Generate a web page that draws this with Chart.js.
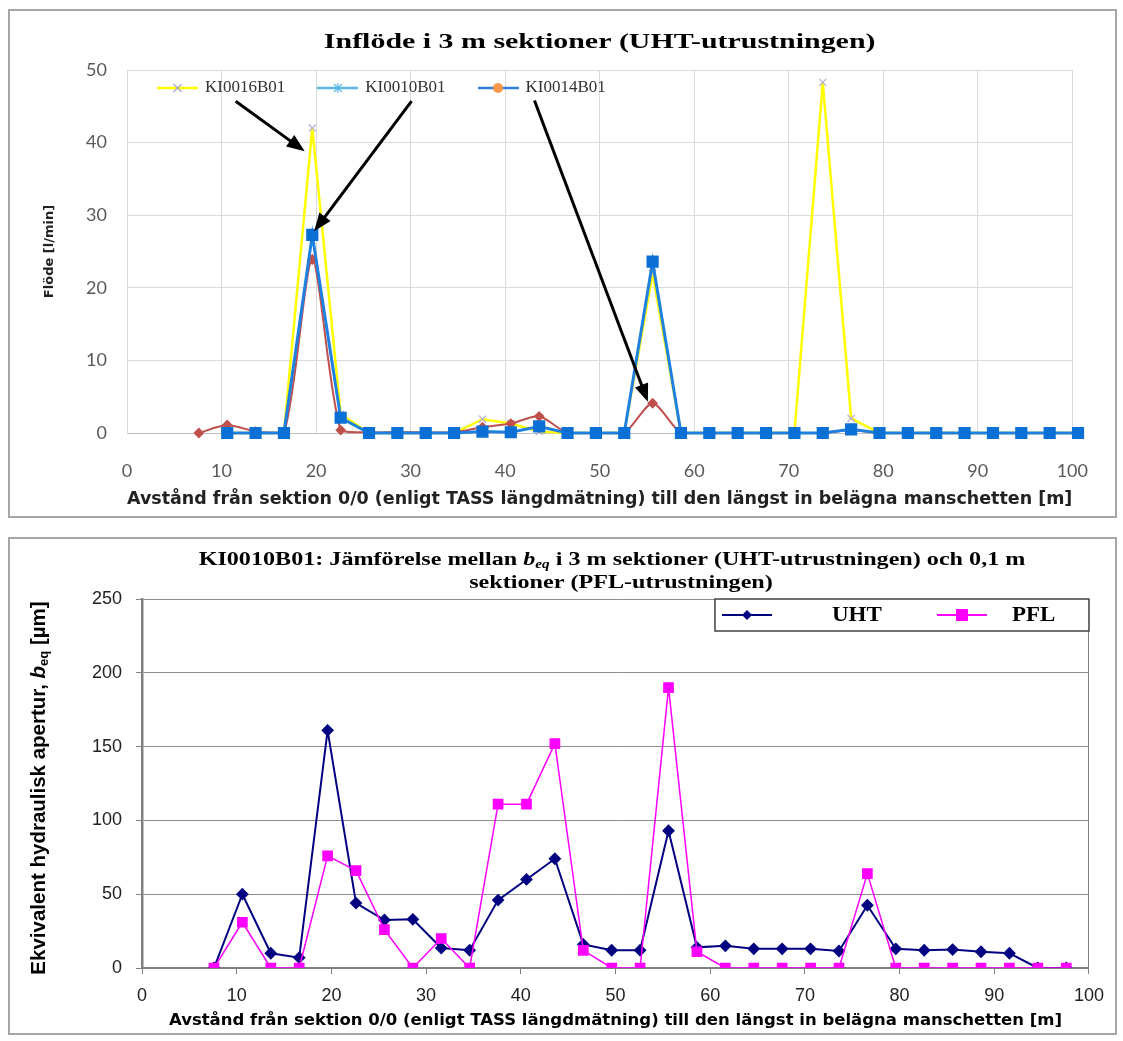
<!DOCTYPE html>
<html>
<head>
<meta charset="utf-8">
<script src="https://cdn.jsdelivr.net/npm/chart.js@4.4.1/dist/chart.umd.min.js"></script>
<style>
  body { margin: 0; background: #fff; width: 1123px; height: 1041px; position: relative; overflow: hidden; }
  .box { position: absolute; left: 8px; width: 1105px; border: 2px solid #a6a6a6; background: #fff; }
  #flowBox { top: 9px; height: 505px; }
  #apBox { top: 537px; height: 494px; }
  canvas { display: block; }
</style>
</head>
<body>
<div class="box" id="flowBox"><canvas id="flowChart" width="1105" height="505"></canvas></div>
<div class="box" id="apBox"><canvas id="apChart" width="1105" height="494"></canvas></div>
<script>
// section midpoints [m]
const sections = [7.6, 10.6, 13.6, 16.6, 19.6, 22.6, 25.6, 28.6, 31.6, 34.6, 37.6, 40.6, 43.6, 46.6, 49.6, 52.6,
  55.6, 58.6, 61.6, 64.6, 67.6, 70.6, 73.6, 76.6, 79.6, 82.6, 85.6, 88.6, 91.6, 94.6, 97.6, 100.6];

// inflow [l/min]
const ki0016b01 = [null, 0, 0, 0, 42, 2.6, 0, 0, 0, 0, 1.9, 1.3, 0.2, 0, 0, 0,
  22, 0, 0, 0, 0, 0, 48.3, 2, 0, 0, 0, 0, 0, 0, 0, 0];
const ki0010b01 = [null, 0, 0, 0, 27.3, 2.1, 0, 0, 0, 0, 0.2, 0.1, 0.9, 0, 0, 0,
  23.6, 0, 0, 0, 0, 0, 0, 0.5, 0, 0, 0, 0, 0, 0, 0, 0];
const ki0014b01 = [0, 1.1, 0.2, 0, 23.9, 0.4, 0.1, 0.1, 0.1, 0.1, 0.8, 1.3, 2.3, 0, 0, 0,
  4.1, 0, 0, 0, 0, 0, 0, 0.4, 0, 0, 0, 0, 0, 0, 0, 0];

// b_eq [µm]
const apSections = [7.6, 10.6, 13.6, 16.6, 19.6, 22.6, 25.6, 28.6, 31.6, 34.6, 37.6, 40.6, 43.6, 46.6, 49.6, 52.6,
  55.6, 58.6, 61.6, 64.6, 67.6, 70.6, 73.6, 76.6, 79.6, 82.6, 85.6, 88.6, 91.6, 94.6, 97.6];
const uht = [0, 50, 10, 7, 161, 44, 32.5, 33, 13.5, 12, 46, 60, 74, 16, 12, 12,
  93, 14, 15, 13, 13, 13, 11.5, 42.5, 13, 12, 12.5, 11, 10, 0, 0];
const pfl = [0, 31, 0, 0, 76, 66, 26, 0, 20, 0, 111, 111, 152, 12, 0, 0,
  190, 11, 0, 0, 0, 0, 0, 64, 0, 0, 0, 0, 0, 0, 0];

const distanceTicks = [0, 10, 20, 30, 40, 50, 60, 70, 80, 90, 100];
const flowTicks = [0, 10, 20, 30, 40, 50];
const apTicks = [0, 50, 100, 150, 200, 250];

// arrows in data units: start (legend) -> tip
const arrowFrom = [[11.5, 45.7], [30.1, 45.7], [43.1, 45.8]];
const arrowTo = [[18.8, 38.8], [19.8, 27.8], [55.1, 4.3]];

const distanceTitle = "Avstånd från sektion 0/0 (enligt TASS längdmätning) till den längst in belägna manschetten [m]";

const toPoints = (xs, ys) => xs.map((x, i) => ({ x: x, y: ys[i] }));

function symbol(w, h, color, lw, marker) {
  const c = document.createElement("canvas");
  c.width = w; c.height = h;
  const g = c.getContext("2d");
  g.strokeStyle = color; g.lineWidth = lw;
  g.beginPath(); g.moveTo(0, h / 2); g.lineTo(w, h / 2); g.stroke();
  marker(g, w / 2, h / 2);
  return c;
}

const topSymbols = [
  symbol(41, 16, "#ffff00", 2.5, (g, x, y) => {
    g.strokeStyle = "#a8a0cc"; g.lineWidth = 1.2;
    g.beginPath(); g.moveTo(x - 4, y - 4); g.lineTo(x + 4, y + 4); g.moveTo(x + 4, y - 4); g.lineTo(x - 4, y + 4); g.stroke();
  }),
  symbol(41, 16, "#5cb8e4", 2.5, (g, x, y) => {
    g.strokeStyle = "#5cb8e4"; g.lineWidth = 1.2;
    g.beginPath(); g.moveTo(x - 4, y - 4); g.lineTo(x + 4, y + 4); g.moveTo(x + 4, y - 4); g.lineTo(x - 4, y + 4);
    g.moveTo(x, y - 5); g.lineTo(x, y + 5); g.stroke();
  }),
  symbol(41, 16, "#2f80dc", 2.5, (g, x, y) => {
    g.fillStyle = "#f79646"; g.beginPath(); g.arc(x, y, 5, 0, Math.PI * 2); g.fill();
  })
];

const apSymbols = [
  symbol(50, 14, "#000080", 2, (g, x, y) => {
    g.fillStyle = "#000080"; g.beginPath();
    g.moveTo(x, y - 5); g.lineTo(x + 5, y); g.lineTo(x, y + 5); g.lineTo(x - 5, y); g.closePath(); g.fill();
  }),
  symbol(50, 14, "#ff00ff", 2, (g, x, y) => {
    g.fillStyle = "#ff00ff"; g.fillRect(x - 6, y - 6, 12, 12);
  })
];

// draws text pieces on one line, centred on cx, stretched horizontally by sx
function drawRich(ctx, parts, cx, cy, sx) {
  let total = 0;
  parts.forEach(p => { ctx.font = p.font; total += ctx.measureText(p.text).width; });
  ctx.save();
  ctx.translate(cx, cy);
  ctx.scale(sx, 1);
  let x = -total / 2;
  parts.forEach(p => {
    ctx.font = p.font;
    ctx.fillText(p.text, x, p.dy || 0);
    x += ctx.measureText(p.text).width;
  });
  ctx.restore();
}

const flowDecor = {
  id: "flowDecor",
  afterDatasetsDraw(chart) {
    const { ctx, chartArea, scales: { x, y } } = chart;
    ctx.save();
    ctx.fillStyle = "#000"; ctx.textAlign = "left"; ctx.textBaseline = "middle";
    drawRich(ctx, [{ text: "Inflöde i 3 m sektioner (UHT-utrustningen)", font: 'bold 22px "Liberation Serif"' }],
      (chartArea.left + chartArea.right) / 2, 31, 1.36);

    // legend inside the plot
    let lx = chartArea.left + 30;
    const ly = chartArea.top + 18;
    ctx.font = '17px "Liberation Serif"';
    chart.data.datasets.forEach((ds, i) => {
      ctx.drawImage(topSymbols[i], lx, ly - 8);
      ctx.fillStyle = "#333";
      ctx.fillText(ds.label, lx + 48, ly);
      lx += 48 + ctx.measureText(ds.label).width + 32;
    });

    // arrows
    ctx.strokeStyle = "#000"; ctx.fillStyle = "#000"; ctx.lineWidth = 3;
    arrowFrom.forEach((s, i) => {
      const x0 = x.getPixelForValue(s[0]), y0 = y.getPixelForValue(s[1]);
      const x1 = x.getPixelForValue(arrowTo[i][0]), y1 = y.getPixelForValue(arrowTo[i][1]);
      const a = Math.atan2(y1 - y0, x1 - x0), head = 18, half = 7;
      const cos = Math.cos(a), sin = Math.sin(a);
      ctx.beginPath(); ctx.moveTo(x0, y0); ctx.lineTo(x1 - cos * head * 0.8, y1 - sin * head * 0.8); ctx.stroke();
      ctx.beginPath(); ctx.moveTo(x1, y1);
      ctx.lineTo(x1 - head * cos + half * sin, y1 - head * sin - half * cos);
      ctx.lineTo(x1 - head * cos - half * sin, y1 - head * sin + half * cos);
      ctx.closePath(); ctx.fill();
    });
    ctx.restore();
  }
};

const B = 'bold 19px "Liberation Serif"', BI = 'bold italic 19px "Liberation Serif"', BIs = 'bold italic 12px "Liberation Serif"';
const YF = 'bold 20.5px "Liberation Sans"', YFI = 'bold italic 20.5px "Liberation Sans"', YFs = 'bold 13px "Liberation Sans"';

const apDecor = {
  id: "apDecor",
  afterDraw(chart) {
    const { ctx, chartArea } = chart;
    ctx.save();
    ctx.fillStyle = "#000"; ctx.textAlign = "left"; ctx.textBaseline = "middle";
    drawRich(ctx, [
      { text: "KI0010B01: Jämförelse mellan ", font: B },
      { text: "b", font: BI },
      { text: "eq", font: BIs, dy: 5 },
      { text: " i 3 m sektioner (UHT-utrustningen) och 0,1 m", font: B }
    ], 602, 21, 1.27);
    drawRich(ctx, [{ text: "sektioner (PFL-utrustningen)", font: B }], 611, 44, 1.27);

    ctx.save();
    ctx.translate(29, 249);
    ctx.rotate(-Math.PI / 2);
    drawRich(ctx, [
      { text: "Ekvivalent hydraulisk apertur, ", font: YF },
      { text: "b", font: YFI },
      { text: "eq", font: YFs, dy: 5 },
      { text: " [µm]", font: YF }
    ], 0, 0, 1);
    ctx.restore();

    // legend frame at the top right of the plot
    const fl = chartArea.right - 374, ft = chartArea.top, fh = 32;
    ctx.fillStyle = "#fff";
    ctx.fillRect(fl, ft, 374, fh);
    ctx.strokeStyle = "#404040"; ctx.lineWidth = 1.5;
    ctx.strokeRect(fl, ft, 374, fh);
    const symX = [fl + 7, fl + 222], txtX = [fl + 117, fl + 297];
    chart.data.datasets.forEach((ds, i) => {
      ctx.drawImage(apSymbols[i], symX[i], ft + fh / 2 - 7);
      ctx.save();
      ctx.translate(txtX[i], ft + fh / 2 + 1);
      ctx.scale(1.15, 1);
      ctx.fillStyle = "#000";
      ctx.font = 'bold 20px "Liberation Serif"';
      ctx.fillText(ds.label, 0, 0);
      ctx.restore();
    });
    ctx.restore();
  }
};

Chart.defaults.animation = false;
Chart.defaults.events = [];
Chart.defaults.plugins.tooltip.enabled = false;
Chart.defaults.plugins.legend.display = false;

new Chart(document.getElementById("flowChart"), {
  type: "line",
  data: {
    datasets: [
      {
        label: "KI0016B01", data: toPoints(sections, ki0016b01), order: 2,
        borderColor: "#ffff00", borderWidth: 2.5, pointStyle: "crossRot", pointRadius: 5,
        pointBorderColor: "#b4acd4", pointBorderWidth: 1.2, clip: false
      },
      {
        label: "KI0010B01", data: toPoints(sections, ki0010b01), order: 0,
        borderColor: "#1f80e0", borderWidth: 3, pointStyle: "rect", pointRadius: 6.5,
        pointBackgroundColor: "#0a70d6", pointBorderColor: "#0a70d6", clip: false
      },
      {
        label: "KI0014B01", data: toPoints(sections, ki0014b01), order: 1,
        borderColor: "#c0504d", borderWidth: 2, pointStyle: "rectRot", pointRadius: 4, tension: 0.25,
        pointBackgroundColor: "#c0504d", pointBorderColor: "#c0504d", clip: false
      }
    ]
  },
  options: {
    responsive: false,
    devicePixelRatio: 1,
    layout: { padding: { top: 59, right: 35, bottom: 0, left: 0 } },
    scales: {
      x: {
        type: "linear", min: distanceTicks[0], max: distanceTicks[distanceTicks.length - 1],
        afterFit(s) { s.height = 83; },
        afterBuildTicks(s) { s.ticks = distanceTicks.map(v => ({ value: v })); },
        grid: { color: "#d9d9d9", drawTicks: false },
        border: { color: "#bfbfbf" },
        ticks: { padding: 27, color: "#595959", font: { family: "Lato", size: 18 } },
        title: {
          display: true, color: "#222", text: distanceTitle,
          font: { family: '"DejaVu Sans"', size: 18.5, weight: "bold" },
          padding: { top: 0, bottom: 6 }
        }
      },
      y: {
        min: flowTicks[0], max: flowTicks[flowTicks.length - 1],
        afterFit(s) { s.width = 117; },
        afterBuildTicks(s) { s.ticks = flowTicks.map(v => ({ value: v })); },
        grid: { color: "#d9d9d9", drawTicks: false },
        border: { color: "#d9d9d9" },
        ticks: { padding: 20, color: "#595959", font: { family: "Lato", size: 18 } },
        title: {
          display: true, text: "Flöde [l/min]", color: "#222",
          font: { family: '"DejaVu Sans"', size: 13, weight: "bold" },
          padding: { top: 32, bottom: 0 }
        }
      }
    }
  },
  plugins: [flowDecor]
});

new Chart(document.getElementById("apChart"), {
  type: "line",
  data: {
    datasets: [
      {
        label: "UHT", data: toPoints(apSections, uht), order: 1,
        borderColor: "#000080", borderWidth: 2, pointStyle: "rectRot", pointRadius: 5,
        pointBackgroundColor: "#000080", pointBorderColor: "#000080"
      },
      {
        label: "PFL", data: toPoints(apSections, pfl), order: 0,
        borderColor: "#ff00ff", borderWidth: 1.5, pointStyle: "rect", pointRadius: 6.5,
        pointBackgroundColor: "#ff00ff", pointBorderColor: "#ff00ff"
      }
    ]
  },
  options: {
    responsive: false,
    devicePixelRatio: 1,
    layout: { padding: { top: 60, right: 23, bottom: 0, left: 0 } },
    scales: {
      x: {
        type: "linear", min: distanceTicks[0], max: distanceTicks[distanceTicks.length - 1],
        afterFit(s) { s.height = 65; },
        afterBuildTicks(s) { s.ticks = distanceTicks.map(v => ({ value: v })); },
        grid: {
          color: ctx => (ctx.tick && ctx.tick.value === 100 ? "#808080" : "rgba(0,0,0,0)"),
          tickColor: "#808080", tickLength: 6
        },
        border: { color: "#808080", width: 2 },
        ticks: { padding: 11, color: "#222", font: { family: '"Liberation Sans"', size: 18 } },
        title: {
          display: true, color: "#000", text: distanceTitle,
          font: { family: '"DejaVu Sans"', size: 16.5, weight: "bold" },
          padding: { top: 0, bottom: 2 }
        }
      },
      y: {
        min: apTicks[0], max: apTicks[apTicks.length - 1],
        afterFit(s) { s.width = 132; },
        afterBuildTicks(s) { s.ticks = apTicks.map(v => ({ value: v })); },
        grid: { color: "#8c8c8c", tickColor: "#808080", tickLength: 6 },
        border: { color: "#808080", width: 2.5 },
        ticks: { padding: 14, color: "#222", font: { family: '"Liberation Sans"', size: 18 } },
        title: { display: false }
      }
    }
  },
  plugins: [apDecor]
});
</script>
</body>
</html>
